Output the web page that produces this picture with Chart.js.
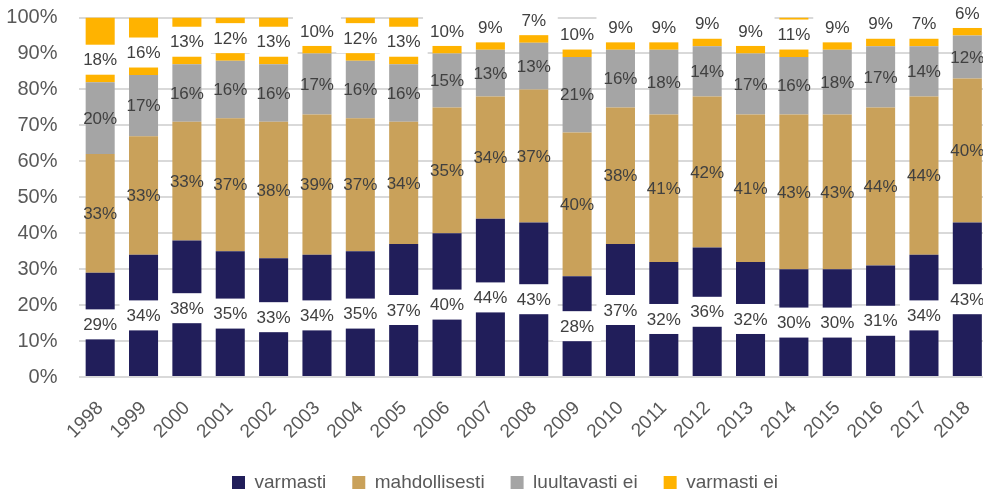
<!DOCTYPE html>
<html><head><meta charset="utf-8">
<script src="https://cdn.jsdelivr.net/npm/chart.js@4"></script>
<style>html,body{margin:0;padding:0;background:#fff;overflow:hidden;} #wrap{width:989px;height:493px;position:relative;}</style>
</head><body><div id="wrap"><canvas id="c"></canvas></div>
<script>
const years = ['1998','1999','2000','2001','2002','2003','2004','2005','2006','2007','2008','2009','2010','2011','2012','2013','2014','2015','2016','2017','2018'];
const varmasti = [29,34,38,35,33,34,35,37,40,44,43,28,37,32,36,32,30,30,31,34,43];
const mahdollisesti = [33,33,33,37,38,39,37,34,35,34,37,40,38,41,42,41,43,43,44,44,40];
const luultavastiEi = [20,17,16,16,16,17,16,16,15,13,13,21,16,18,14,17,16,18,17,14,12];
const varmastiEi = [18,16,13,12,13,10,12,13,10,9,7,10,9,9,9,9,11,9,9,7,6];
const seriesNames = ['varmasti','mahdollisesti','luultavasti ei','varmasti ei'];
const seriesColors = ['#211E5A','#C9A15A','#A5A5A5','#FFB300'];
const yMin = 0, yMax = 100, yStep = 10;

const FONT = '"Liberation Sans", Arial, sans-serif';

// segment labels: bottom & top series on white boxes; top series anchored at the segment base
const segLabels = {
  id: 'segLabels',
  afterDatasetsDraw(chart) {
    const ctx = chart.ctx;
    ctx.save();
    ctx.font = '17px ' + FONT;
    ctx.textAlign = 'center';
    ctx.textBaseline = 'middle';
    const last = chart.data.datasets.length - 1;
    chart.data.datasets.forEach((ds, di) => {
      const meta = chart.getDatasetMeta(di);
      const boxed = (di === 0 || di === last);
      meta.data.forEach((bar, i) => {
        const v = ds.data[i];
        let cy = (bar.y + bar.base) / 2;
        if (di === last) cy = bar.base - 7.5 - 15;
        if (boxed) {
          ctx.fillStyle = '#ffffff';
          ctx.fillRect(bar.x - 24, cy - 15, 48, 30);
        }
        ctx.fillStyle = '#404040';
        ctx.fillText(v + '%', bar.x, cy + 1);
      });
    });
    ctx.restore();
  }
};

// nudge the legend a little to the right, as in the original
const legendShift = {
  id: 'legendShift',
  afterLayout(chart) {
    if (chart.legend) { chart.legend.left += 7; chart.legend.right += 7; }
  }
};

const dataSeries = [varmasti, mahdollisesti, luultavastiEi, varmastiEi];
const fitX = s => { s.paddingLeft = 0; s.paddingRight = 0; s.paddingTop = 0; s.paddingBottom = 0; s.height = 70; };
const fitY = s => { s.paddingLeft = 0; s.paddingRight = 0; s.paddingTop = 0; s.paddingBottom = 0; s.width = 71.5; };

new Chart(document.getElementById('c'), {
  type: 'bar',
  data: {
    labels: years,
    datasets: dataSeries.map((d, i) => ({
      label: seriesNames[i],
      data: d,
      backgroundColor: seriesColors[i],
      borderWidth: 0,
      barPercentage: 0.67,
      categoryPercentage: 1.0
    }))
  },
  options: {
    responsive: true,
    maintainAspectRatio: false,
    animation: false,
    devicePixelRatio: 1,
    layout: { padding: { left: 7, right: 0, top: 17.5, bottom: -9 } },
    plugins: {
      legend: {
        position: 'bottom',
        labels: {
          boxWidth: 13, boxHeight: 13, padding: 26,
          color: '#595959',
          font: { family: FONT, size: 19 }
        }
      },
      tooltip: { enabled: false }
    },
    scales: {
      x: {
        stacked: true,
        grid: { display: false },
        border: { display: false },
        afterFit: fitX,
        ticks: {
          minRotation: 45, maxRotation: 45, padding: 12,
          color: '#595959',
          font: { family: FONT, size: 19 }
        }
      },
      y: {
        stacked: true,
        min: yMin, max: yMax,
        afterFit: fitY,
        grid: { color: '#D9D9D9', lineWidth: 2, drawTicks: false },
        border: { display: false },
        ticks: {
          stepSize: yStep, padding: 21,
          color: '#595959',
          font: { family: FONT, size: 20 },
          callback: v => v + '%'
        }
      }
    }
  },
  plugins: [segLabels, legendShift]
});
</script>
</body></html>
